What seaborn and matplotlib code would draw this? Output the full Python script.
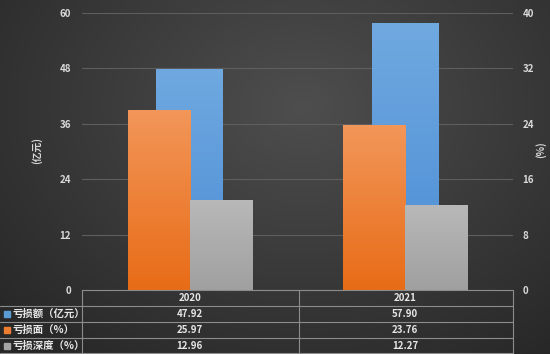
import numpy as np
import pandas as pd
import matplotlib
matplotlib.use('Agg')
import matplotlib.pyplot as plt
import matplotlib.transforms as mtransforms
from matplotlib.colors import LinearSegmentedColormap
from matplotlib.lines import Line2D
import seaborn as sns

years = ['2020', '2021']
loss_amount = [47.92, 57.90]
loss_ratio = [25.97, 23.76]
loss_depth = [12.96, 12.27]
series_names = ['亏损额（亿元）', '亏损面（%）', '亏损深度（%）']
left_ticks = [0, 12, 24, 36, 48, 60]
right_ticks = [0, 8, 16, 24, 32, 40]

sns.set_theme(style='dark')
plt.rcParams['font.family'] = ['Noto Sans CJK SC', 'DejaVu Sans']
plt.rcParams['axes.unicode_minus'] = False

W, H = 550, 354
fig = plt.figure(figsize=(W / 100, H / 100), dpi=100)

# background gradient
bg = fig.add_axes([0, 0, 1, 1], zorder=-10)
yy, xx = np.mgrid[0:1:200j, 0:1:300j]
d = np.sqrt(((xx - 0.55) / 0.75) ** 2 + ((yy - 0.3) / 0.9) ** 2)
v = np.clip(1 - d, 0, 1)
lo, hi = 0x27 / 255, 0x4e / 255
img = lo + (hi - lo) * v
bg.imshow(np.dstack([img, img, img]), extent=[0, 1, 0, 1], aspect='auto', origin='upper')
bg.set_axis_off()

def fx(px):
    return px / W

ax = fig.add_axes([82 / W, 1 - 290 / H, 431 / W, 277 / H])
ax.patch.set_alpha(0)
ax2 = ax.twinx()
ax2.patch.set_alpha(0)

sns.barplot(x=years, y=loss_amount, ax=ax, color='#5b9bd5', width=0.31,
            saturation=1, linewidth=0, order=years)
df = pd.DataFrame({
    'year': years * 2,
    'value': loss_ratio + loss_depth,
    'series': [series_names[1]] * 2 + [series_names[2]] * 2,
})
sns.barplot(data=df, x='year', y='value', hue='series', order=years,
            palette=['#ed7d31', '#a5a5a5'], width=0.576, saturation=1,
            linewidth=0, ax=ax2, legend=False)

def grad(axis, patches, top, bottom):
    cmap = LinearSegmentedColormap.from_list('g', [bottom, top])
    for p in patches:
        x0, y0 = p.get_x(), p.get_y()
        w, h = p.get_width(), p.get_height()
        im = axis.imshow(np.linspace(0, 1, 100).reshape(-1, 1),
                         extent=[x0, x0 + w, y0, y0 + h], origin='lower',
                         aspect='auto', cmap=cmap, zorder=p.get_zorder() + 0.1)
        im.set_clip_path(p)

grad(ax, list(ax.patches), '#70a9e0', '#4a8cd5')
p2 = list(ax2.patches)
grad(ax2, p2[:2], '#f29659', '#e86c17')
grad(ax2, p2[2:], '#b8b8b8', '#a0a0a0')

for a in (ax, ax2):
    a.set_xlim(-0.5, 1.5)
    for s in a.spines.values():
        s.set_visible(False)
    a.set_xlabel('')
    a.set_ylabel('')
ax.set_ylim(0, 60)
ax2.set_ylim(0, 40)
ax.set_yticks(left_ticks)
ax2.set_yticks(right_ticks)
ax.set_xticks([0, 1])
ax.set_xticklabels(['', ''])
ax.tick_params(axis='x', length=0)
ax.tick_params(axis='y', colors='#d9d9d9', labelsize=7, length=0, pad=8)
ax2.tick_params(axis='y', colors='#d9d9d9', labelsize=7, length=0, pad=7)
for lab in ax.get_yticklabels() + ax2.get_yticklabels():
    lab.set_fontweight('bold')
ax.set_axisbelow(True)
ax.yaxis.grid(True, color='#5e5e5e', lw=0.8)
ax.xaxis.grid(False)
ax2.grid(False)

fig.text(fx(37), 1 - 150 / H, '(亿元)', rotation=90, color='#d9d9d9',
         fontsize=7, ha='center', va='center', fontweight='bold')
fig.text(fx(541), 1 - 150 / H, '(%)', rotation=90, color='#d9d9d9',
         fontsize=7, ha='center', va='center', fontweight='bold')

# data table
tf = mtransforms.blended_transform_factory(fig.transFigure, ax.transAxes)
td = mtransforms.blended_transform_factory(ax.transData, ax.transAxes)

def ay(py):
    return (290 - py) / 277

lc = '#8c8c8c'
lines = [((82, 513), 290), ((0, 513), 306), ((0, 513), 322),
         ((0, 513), 338), ((0, 513), 353)]
for (xa, xb), py in lines:
    fig.add_artist(Line2D([fx(xa), fx(xb)], [ay(py), ay(py)], transform=tf,
                          color=lc, lw=0.8, clip_on=False))
for px in (82, 299, 513):
    fig.add_artist(Line2D([fx(px), fx(px)], [ay(290), ay(354)], transform=tf,
                          color=lc, lw=0.8, clip_on=False))

tc = '#e6e6e6'
for i, yr in enumerate(years):
    ax.text(i, ay(298), yr, transform=td, ha='center', va='center',
            fontsize=7, color=tc, fontweight='bold', clip_on=False)
rows = [loss_amount, loss_ratio, loss_depth]
colors = ['#5b9bd5', '#ed7d31', '#a5a5a5']
for r, (name, vals, c) in enumerate(zip(series_names, rows, colors)):
    yc = ay(314 + 16 * r)
    for i, v in enumerate(vals):
        ax.text(i, yc, f'{v:.2f}', transform=td, ha='center', va='center',
                fontsize=7, color=tc, fontweight='bold', clip_on=False)
    fig.add_artist(Line2D([fx(6.5)], [yc], transform=tf, marker='s',
                          markersize=4.5, color=c, lw=0, clip_on=False))
    fig.text(fx(12), 0, name, transform=tf, ha='left', va='center',
             fontsize=7.5, color=tc, fontweight='bold').set_y(yc)

fig.savefig('out.png', dpi=100)
